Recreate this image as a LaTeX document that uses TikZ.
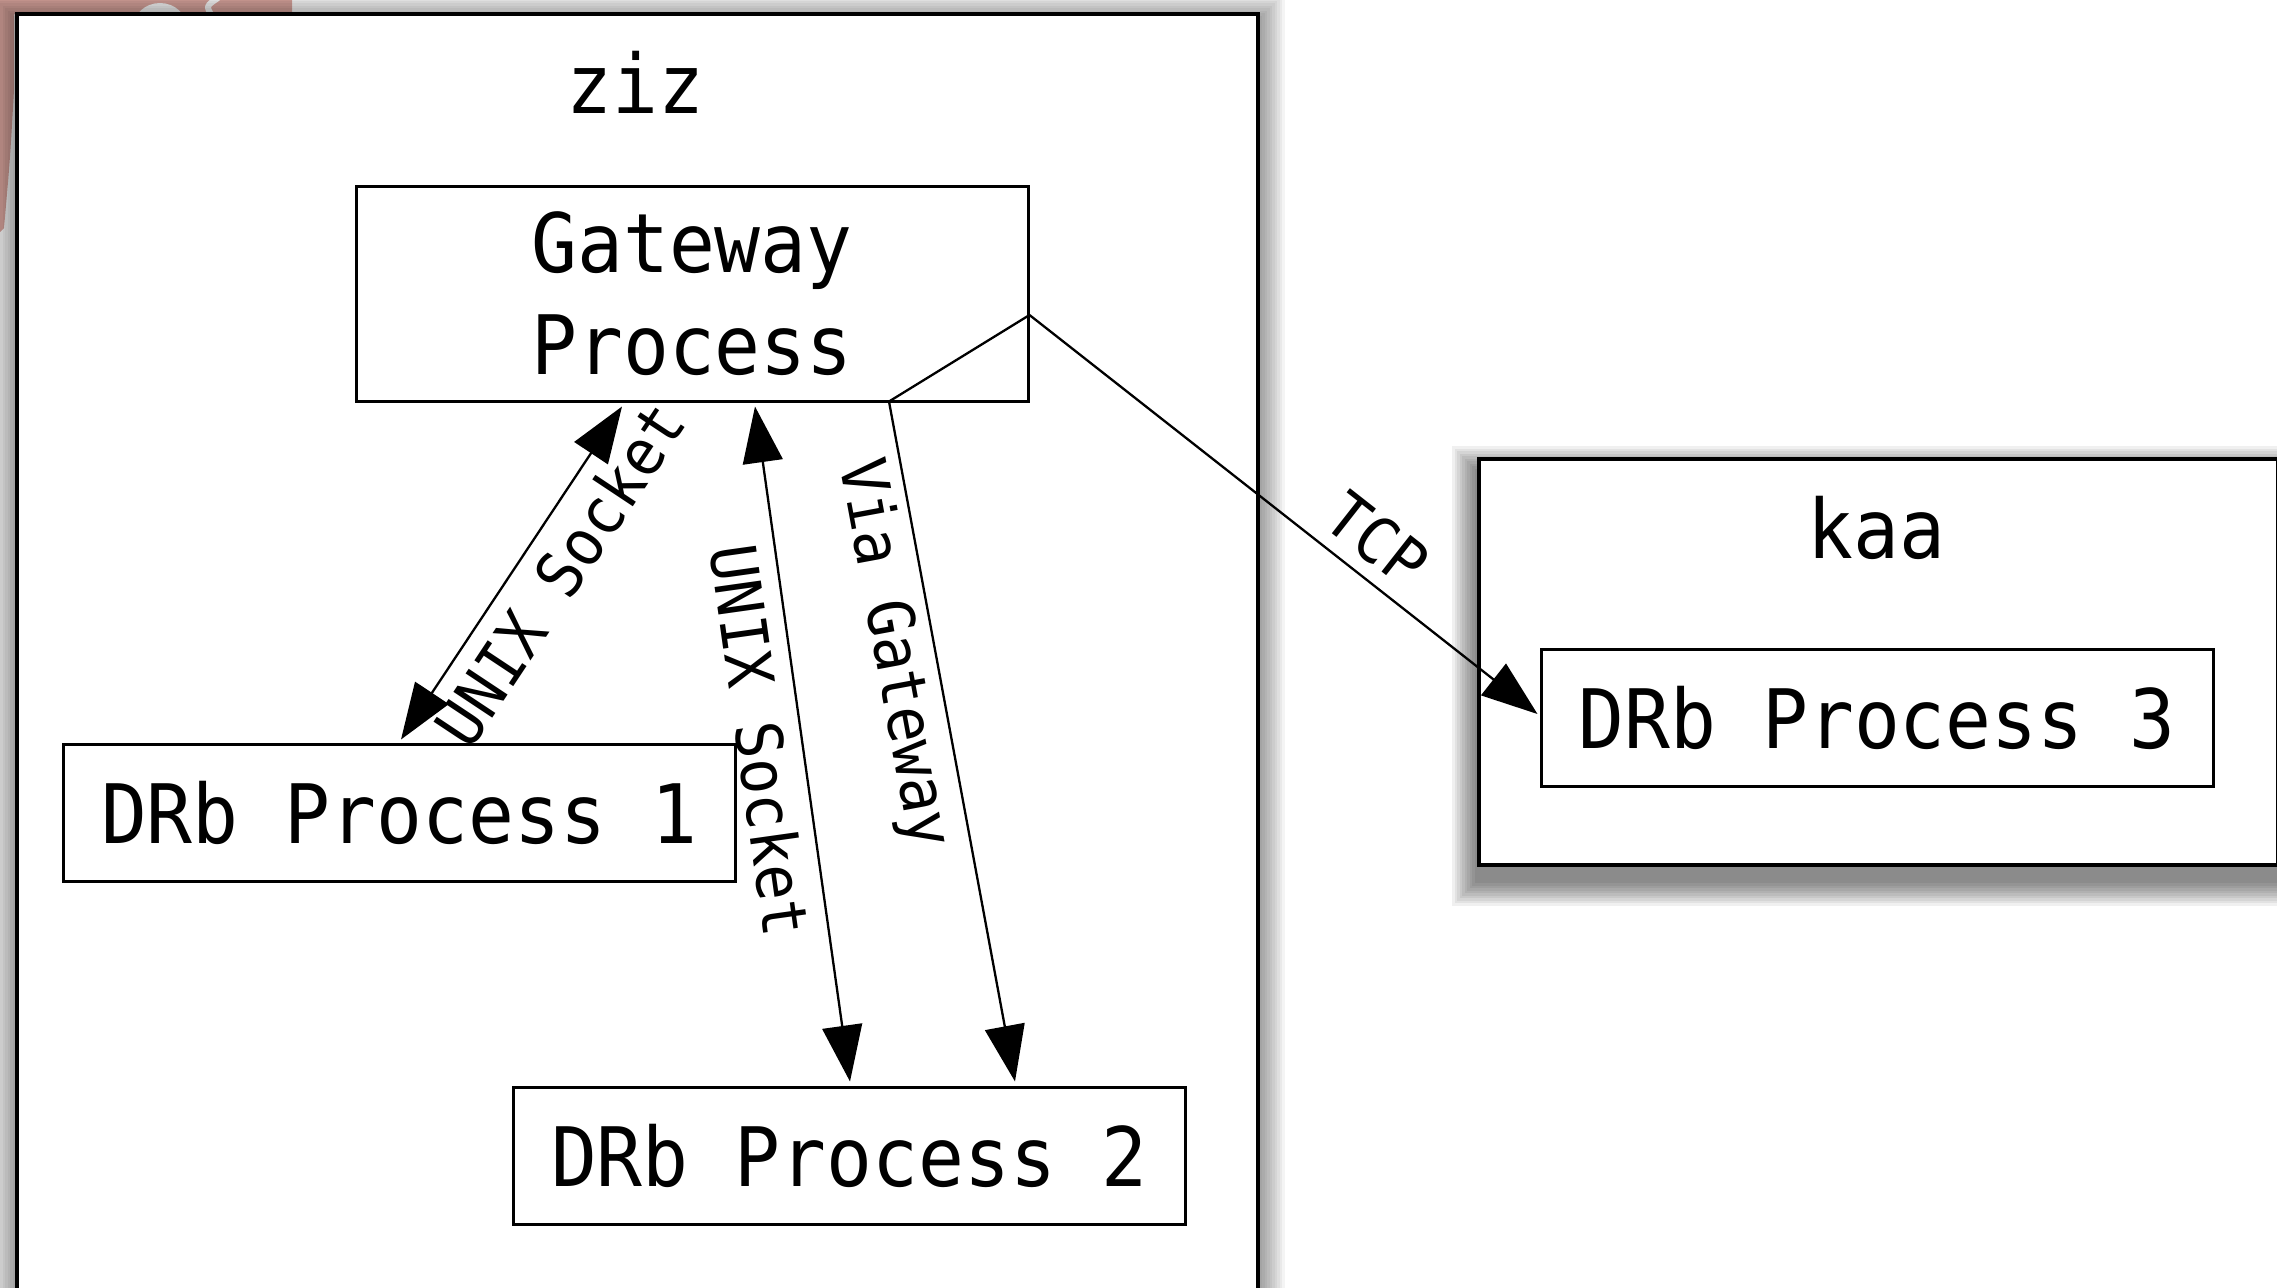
\documentclass[tikz,border=0pt]{standalone}
\usepackage{fontspec}
\newfontfamily\diagfont[FakeStretch=0.93]{DejaVu Sans Mono}
\usetikzlibrary{arrows.meta,calc,backgrounds}

\definecolor{salmon}{RGB}{222,168,160}

\tikzset{
  hostbox/.style={draw, line width=1.75pt, fill=white, inner sep=0pt, anchor=north west},
  hostname/.style={font=\diagfont\fontsize{41}{51}\selectfont, anchor=base, inner sep=0pt},
  procbase/.style={draw, line width=1.5pt, fill=white, inner sep=0pt,
    minimum width=336pt, font=\diagfont\fontsize{41}{51}\selectfont},
  procbox/.style={procbase, minimum height=68.5pt, text height=30.5pt, text depth=0pt},
  gatebox/.style={procbase, minimum height=107.5pt, align=center},
  link/.style={line width=1.15pt, line join=miter},
  linklabel/.style={font=\diagfont\fontsize{32}{38}\selectfont, sloped, inner sep=0pt},
}

% soft drop shadow: stacked translucent rectangles around a node
\newcommand\boxshadow[3]{%
  \foreach \k in {1,...,10}{
    \fill[black, opacity=#3]
      ($(#1.north west)+(-2.5*\k,#2-2.5*\k)$) rectangle
      ($(#1.south east)+(2.5*\k,#2+2.5*\k)$);
  }%
}

\begin{document}
\begin{tikzpicture}[x=0.5pt, y=-0.5pt, >={Triangle[length=28pt,width=20pt]}]
\useasboundingbox (0,0) rectangle (2277,1287);

% host machines
\node[hostbox, minimum width=620.5pt, minimum height=654pt] (ziz) at (15,12) {};
\node[hostbox, minimum width=399.5pt, minimum height=203pt] (kaa) at (1477,457) {};
\node[hostname] (zizname) at (635.5,113) {ziz};
\node[hostname] (kaaname) at (1876.5,558) {kaa};

% processes
\node[gatebox] (gw) at (692,293.5) {Gateway\\Process};
\node[procbox] (p1) at (399.5,812.5) {DRb Process 1};
\node[procbox] (p2) at (849.5,1155.5) {DRb Process 2};
\node[procbox] (p3) at (1877,717.5) {DRb Process 3};

% attachment points on the process boxes
\coordinate (gwL) at ($(gw.south)+(-70,4)$);
\coordinate (gwM) at ($(gw.south)+(63,4)$);
\coordinate (gwR) at ($(gw.east)+(0,21.5)$);
\coordinate (gwB) at ($(gw.south)+(197,-1)$);
\coordinate (p1T) at ($(p1.north)+(1.5,-3)$);
\coordinate (p2L) at ($(p2.north)+(0.5,-4)$);
\coordinate (p2R) at ($(p2.north)+(165.5,-4)$);
\coordinate (p3W) at ($(p3.west)+(-2,-3.5)$);

% connections
\draw[link, <->] (p1T) -- node[linklabel, pos=0.565, below=7.5pt] {UNIX Socket} (gwL);
\draw[link, <->] (gwM) -- node[linklabel, pos=0.486, below=7.75pt] {UNIX Socket} (p2L);
\draw[link, ->] (gwR) -- (gwB) -- node[linklabel, pos=0.36, below=5pt] {Via Gateway} (p2R);
\draw[link, ->] (gwR) -- node[linklabel, pos=0.638, above=6.5pt] {TCP} (p3W);

\begin{scope}[on background layer]
  % backdrop peeking out at the top left
  \fill[salmon] (0,0) -- (292,0) -- (292,14) -- (14,14) -- (14,90)
    .. controls (10,160) .. (4,228) -- (0,232) -- cycle;
  \fill[white] (160,28) ellipse [x radius=27, y radius=25];
  \draw[white, line width=3pt] (212,16) .. controls (206,6) .. (218,-2);
  % shadows of the host boxes
  \boxshadow{ziz}{6}{0.045}
  \boxshadow{kaa}{14}{0.06}
\end{scope}
\end{tikzpicture}
\end{document}
